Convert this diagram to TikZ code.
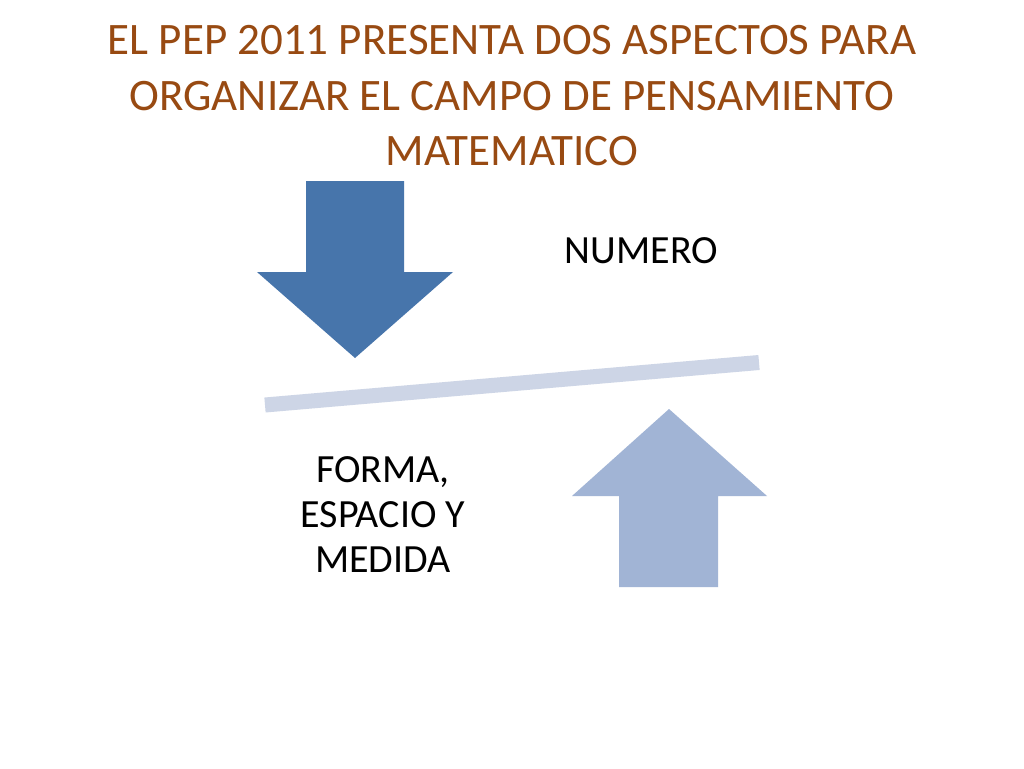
\documentclass[tikz,border=0pt]{standalone}
\usepackage{fontspec}
\setmainfont{Carlito}
\definecolor{titlebrown}{RGB}{152,74,18}
\definecolor{darkblue}{RGB}{71,117,171}
\definecolor{lightblue}{RGB}{161,180,213}
\definecolor{barblue}{RGB}{205,213,230}
\begin{document}
\begin{tikzpicture}[x=1pt,y=-1pt,
  titletext/.style={anchor=base,inner sep=0pt,text=titlebrown,font=\fontsize{45}{55}\selectfont},
  bodytext/.style={anchor=base,inner sep=0pt,text=black,font=\fontsize{40}{45}\selectfont,align=center}]
\useasboundingbox[fill=white] (0,0) rectangle (1024,768);
\node[titletext] (t1) at (512,55) {EL PEP 2011 PRESENTA DOS ASPECTOS PARA};
\node[titletext] (t2) at (512,110) {ORGANIZAR EL CAMPO DE PENSAMIENTO};
\node[titletext] (t3) at (512,165) {MATEMATICO};
% down arrow
\fill[darkblue] (306,181) -- (404,181) -- (404,272) -- (453,272) -- (355,358) -- (257,272) -- (306,272) -- cycle;
% up arrow
\fill[lightblue] (669,409) -- (767,496) -- (718,496) -- (718,587) -- (619,587) -- (619,496) -- (572,496) -- cycle;
% bar
\draw[barblue,line width=15pt,line cap=butt] (265,405) -- (759,362.5);
\node[bodytext] (num) at (641.5,263) {NUMERO};
\node[bodytext] (fem) at (383,572) {FORMA,\\ESPACIO Y\\MEDIDA};
\end{tikzpicture}
\end{document}
